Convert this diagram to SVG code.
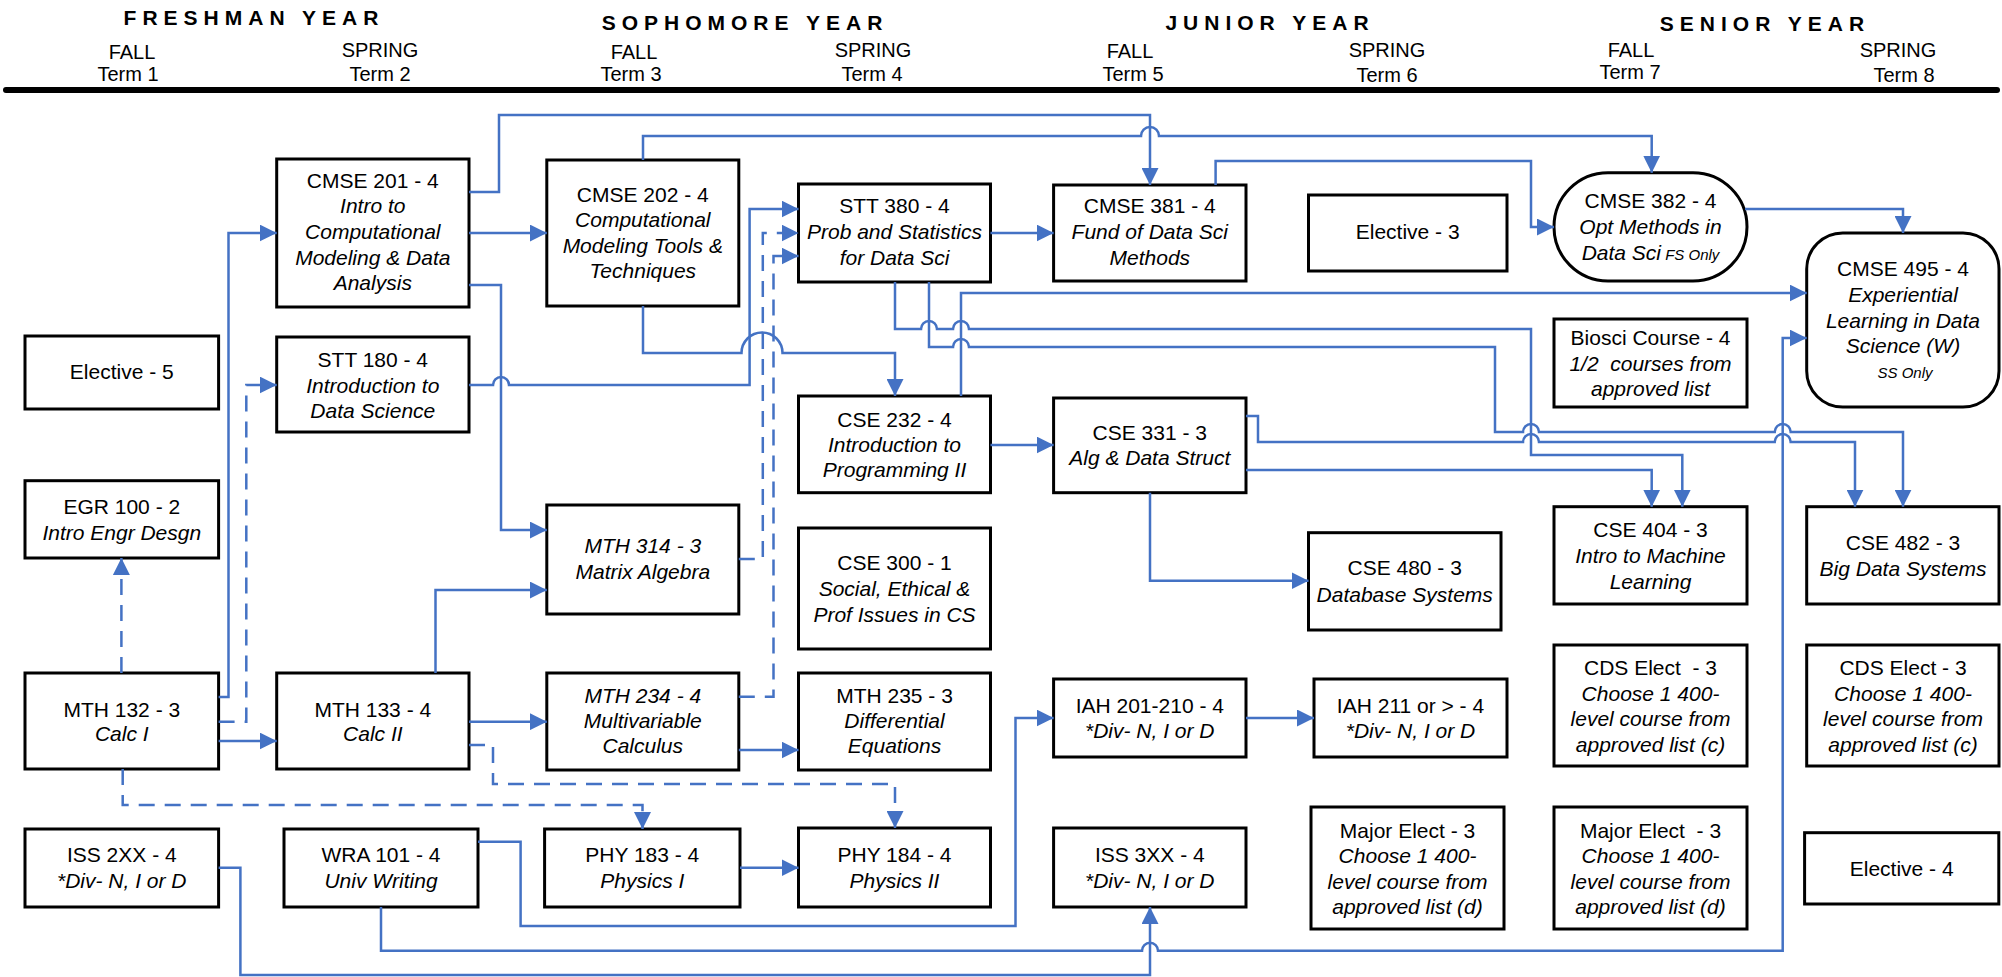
<svg xmlns="http://www.w3.org/2000/svg" width="2002" height="977" viewBox="0 0 2002 977">
<style>
.box{fill:#fff;stroke:#000;stroke-width:3}
.t{font-family:"Liberation Sans",Arial,sans-serif;font-size:21px;text-anchor:middle;fill:#000}
.i{font-style:italic}
.s{font-size:15px}
.yr{font-family:"Liberation Sans",Arial,sans-serif;font-size:21px;font-weight:bold;letter-spacing:6px;text-anchor:middle;fill:#000}
.tm{font-family:"Liberation Sans",Arial,sans-serif;font-size:20px;text-anchor:middle;fill:#000}
.c{fill:none;stroke:#4472C4;stroke-width:2.5;marker-end:url(#a)}
.d{stroke-dasharray:16 10}
</style>
<defs>
<marker id="a" viewBox="0 0 17 17" refX="17" refY="8.5" markerWidth="17" markerHeight="17" orient="auto" markerUnits="userSpaceOnUse"><path d="M0,0 L17,8.5 L0,17 Z" fill="#4472C4"/></marker>
</defs>
<rect width="2002" height="977" fill="#fff"/>

<g id="header">
<text class="yr" x="254" y="25">FRESHMAN  YEAR</text>
<text class="yr" x="745" y="30">SOPHOMORE  YEAR</text>
<text class="yr" x="1270" y="30">JUNIOR  YEAR</text>
<text class="yr" x="1765" y="31">SENIOR  YEAR</text>
<text class="tm" x="132" y="59">FALL</text><text class="tm" x="128" y="81">Term 1</text>
<text class="tm" x="380" y="57">SPRING</text><text class="tm" x="380" y="81">Term 2</text>
<text class="tm" x="634" y="59">FALL</text><text class="tm" x="631" y="81">Term 3</text>
<text class="tm" x="873" y="57">SPRING</text><text class="tm" x="872" y="81">Term 4</text>
<text class="tm" x="1130" y="58">FALL</text><text class="tm" x="1133" y="81">Term 5</text>
<text class="tm" x="1387" y="57">SPRING</text><text class="tm" x="1387" y="82">Term 6</text>
<text class="tm" x="1631" y="57">FALL</text><text class="tm" x="1630" y="79">Term 7</text>
<text class="tm" x="1898" y="57">SPRING</text><text class="tm" x="1904" y="82">Term 8</text>
<line x1="6" y1="90" x2="1997" y2="90" stroke="#000" stroke-width="6" stroke-linecap="round"/>
</g>

<g id="elective5"><rect class="box" x="25" y="336" width="193.6" height="73"/><text class="t" x="121.8" y="379">Elective - 5</text></g>
<g id="egr100"><rect class="box" x="25" y="480.7" width="193.6" height="77.3"/><text class="t"><tspan x="121.8" y="514">EGR 100 - 2</tspan><tspan class="i" x="121.8" y="540">Intro Engr Desgn</tspan></text></g>
<g id="mth132"><rect class="box" x="25" y="673" width="193.6" height="96"/><text class="t"><tspan x="121.8" y="716.7">MTH 132 - 3</tspan><tspan class="i" x="121.8" y="741">Calc I</tspan></text></g>
<g id="iss2xx"><rect class="box" x="25" y="829" width="193.6" height="78"/><text class="t"><tspan x="121.8" y="861.7">ISS 2XX - 4</tspan><tspan class="i" x="121.8" y="888">*Div- N, I or D</tspan></text></g>

<g id="cmse201"><rect class="box" x="276.7" y="159" width="192.3" height="148"/><text class="t"><tspan x="372.8" y="188">CMSE 201 - 4</tspan><tspan class="i" x="372.8" y="213">Intro to</tspan><tspan class="i" x="372.8" y="239">Computational</tspan><tspan class="i" x="372.8" y="265">Modeling &amp; Data</tspan><tspan class="i" x="372.8" y="290">Analysis</tspan></text></g>
<g id="stt180"><rect class="box" x="276.7" y="337" width="192.3" height="95"/><text class="t"><tspan x="372.8" y="367">STT 180 - 4</tspan><tspan class="i" x="372.8" y="393">Introduction to</tspan><tspan class="i" x="372.8" y="418">Data Science</tspan></text></g>
<g id="mth133"><rect class="box" x="276.7" y="673" width="192.3" height="96"/><text class="t"><tspan x="372.8" y="716.7">MTH 133 - 4</tspan><tspan class="i" x="372.8" y="741">Calc II</tspan></text></g>
<g id="wra101"><rect class="box" x="284" y="829" width="194" height="78"/><text class="t"><tspan x="381" y="861.7">WRA 101 - 4</tspan><tspan class="i" x="381" y="888">Univ Writing</tspan></text></g>

<g id="cmse202"><rect class="box" x="546.8" y="160" width="192" height="146"/><text class="t"><tspan x="642.8" y="202">CMSE 202 - 4</tspan><tspan class="i" x="642.8" y="227">Computational</tspan><tspan class="i" x="642.8" y="253">Modeling Tools &amp;</tspan><tspan class="i" x="642.8" y="278">Techniques</tspan></text></g>
<g id="mth314"><rect class="box" x="546.8" y="505" width="192" height="109"/><text class="t i"><tspan x="642.8" y="553">MTH 314 - 3</tspan><tspan x="642.8" y="579">Matrix Algebra</tspan></text></g>
<g id="mth234"><rect class="box" x="546.8" y="673" width="192" height="97"/><text class="t i"><tspan x="642.8" y="703">MTH 234 - 4</tspan><tspan x="642.8" y="728">Multivariable</tspan><tspan x="642.8" y="753">Calculus</tspan></text></g>
<g id="phy183"><rect class="box" x="544.6" y="829" width="195.4" height="78"/><text class="t"><tspan x="642.3" y="861.7">PHY 183 - 4</tspan><tspan class="i" x="642.3" y="888">Physics I</tspan></text></g>

<g id="stt380"><rect class="box" x="798.5" y="184" width="192" height="98"/><text class="t"><tspan x="894.5" y="213">STT 380 - 4</tspan><tspan class="i" x="894.5" y="239">Prob and Statistics</tspan><tspan class="i" x="894.5" y="265">for Data Sci</tspan></text></g>
<g id="cse232"><rect class="box" x="798.5" y="396" width="192" height="96.7"/><text class="t"><tspan x="894.5" y="427">CSE 232 - 4</tspan><tspan class="i" x="894.5" y="452">Introduction to</tspan><tspan class="i" x="894.5" y="477">Programming II</tspan></text></g>
<g id="cse300"><rect class="box" x="798.5" y="528" width="192" height="121"/><text class="t"><tspan x="894.5" y="570">CSE 300 - 1</tspan><tspan class="i" x="894.5" y="596">Social, Ethical &amp;</tspan><tspan class="i" x="894.5" y="621.7">Prof Issues in CS</tspan></text></g>
<g id="mth235"><rect class="box" x="798.5" y="673" width="192" height="97"/><text class="t"><tspan x="894.5" y="703">MTH 235 - 3</tspan><tspan class="i" x="894.5" y="728">Differential</tspan><tspan class="i" x="894.5" y="753">Equations</tspan></text></g>
<g id="phy184"><rect class="box" x="798.5" y="828" width="192" height="79"/><text class="t"><tspan x="894.5" y="861.7">PHY 184 - 4</tspan><tspan class="i" x="894.5" y="888">Physics II</tspan></text></g>

<g id="cmse381"><rect class="box" x="1053.6" y="185" width="192.4" height="96"/><text class="t"><tspan x="1149.8" y="213">CMSE 381 - 4</tspan><tspan class="i" x="1149.8" y="239">Fund of Data Sci</tspan><tspan class="i" x="1149.8" y="265">Methods</tspan></text></g>
<g id="cse331"><rect class="box" x="1053.6" y="398" width="192.4" height="94.7"/><text class="t"><tspan x="1149.8" y="440">CSE 331 - 3</tspan><tspan class="i" x="1149.8" y="465">Alg &amp; Data Struct</tspan></text></g>
<g id="iah201"><rect class="box" x="1053.6" y="679" width="192.4" height="78"/><text class="t"><tspan x="1149.8" y="713">IAH 201-210 - 4</tspan><tspan class="i" x="1149.8" y="738">*Div- N, I or D</tspan></text></g>
<g id="iss3xx"><rect class="box" x="1053.6" y="828" width="192.4" height="79"/><text class="t"><tspan x="1149.8" y="861.7">ISS 3XX - 4</tspan><tspan class="i" x="1149.8" y="888">*Div- N, I or D</tspan></text></g>

<g id="elective3"><rect class="box" x="1308.5" y="195" width="198.5" height="76"/><text class="t" x="1407.7" y="239">Elective - 3</text></g>
<g id="cse480"><rect class="box" x="1308.5" y="532.7" width="192.5" height="97.3"/><text class="t"><tspan x="1404.7" y="575">CSE 480 - 3</tspan><tspan class="i" x="1404.7" y="601.7">Database Systems</tspan></text></g>
<g id="iah211"><rect class="box" x="1314" y="679" width="193" height="78"/><text class="t"><tspan x="1410.5" y="713">IAH 211 or &gt; - 4</tspan><tspan class="i" x="1410.5" y="738">*Div- N, I or D</tspan></text></g>
<g id="majorelect6"><rect class="box" x="1311" y="807" width="193" height="122"/><text class="t"><tspan x="1407.5" y="837.5">Major Elect - 3</tspan><tspan class="i" x="1407.5" y="863">Choose 1 400-</tspan><tspan class="i" x="1407.5" y="888.5">level course from</tspan><tspan class="i" x="1407.5" y="914">approved list (d)</tspan></text></g>

<g id="cmse382"><rect class="box" x="1554" y="172.7" width="193" height="108.3" rx="54" ry="54"/><text class="t"><tspan x="1650.5" y="208">CMSE 382 - 4</tspan><tspan class="i" x="1650.5" y="234">Opt Methods in</tspan><tspan class="i" x="1650.5" y="260">Data Sci<tspan class="s"> FS Only</tspan></tspan></text></g>
<g id="biosci"><rect class="box" x="1554" y="319" width="193" height="88"/><text class="t" xml:space="preserve"><tspan x="1650.5" y="345">Biosci Course - 4</tspan><tspan class="i" x="1650.5" y="371">1/2  courses from</tspan><tspan class="i" x="1650.5" y="396">approved list</tspan></text></g>
<g id="cse404"><rect class="box" x="1554" y="506.7" width="193" height="97.3"/><text class="t"><tspan x="1650.5" y="536.7">CSE 404 - 3</tspan><tspan class="i" x="1650.5" y="563">Intro to Machine</tspan><tspan class="i" x="1650.5" y="589">Learning</tspan></text></g>
<g id="cdselect7"><rect class="box" x="1554" y="645" width="193" height="121"/><text class="t" xml:space="preserve"><tspan x="1650.5" y="675">CDS Elect  - 3</tspan><tspan class="i" x="1650.5" y="700.7">Choose 1 400-</tspan><tspan class="i" x="1650.5" y="726">level course from</tspan><tspan class="i" x="1650.5" y="751.7">approved list (c)</tspan></text></g>
<g id="majorelect7"><rect class="box" x="1554" y="807" width="193" height="122"/><text class="t" xml:space="preserve"><tspan x="1650.5" y="837.5">Major Elect  - 3</tspan><tspan class="i" x="1650.5" y="863">Choose 1 400-</tspan><tspan class="i" x="1650.5" y="888.5">level course from</tspan><tspan class="i" x="1650.5" y="914">approved list (d)</tspan></text></g>

<g id="cmse495"><rect class="box" x="1806.7" y="233" width="192.3" height="174" rx="36" ry="36"/><text class="t"><tspan x="1903" y="276">CMSE 495 - 4</tspan><tspan class="i" x="1903" y="302">Experiential</tspan><tspan class="i" x="1903" y="328">Learning in Data</tspan><tspan class="i" x="1903" y="353">Science (W)</tspan><tspan class="i s" x="1905" y="378">SS Only</tspan></text></g>
<g id="cse482"><rect class="box" x="1806.7" y="506.7" width="192.3" height="97.3"/><text class="t"><tspan x="1903" y="550">CSE 482 - 3</tspan><tspan class="i" x="1903" y="576">Big Data Systems</tspan></text></g>
<g id="cdselect8"><rect class="box" x="1806.7" y="645" width="192.3" height="121"/><text class="t"><tspan x="1903" y="675">CDS Elect - 3</tspan><tspan class="i" x="1903" y="700.7">Choose 1 400-</tspan><tspan class="i" x="1903" y="726">level course from</tspan><tspan class="i" x="1903" y="751.7">approved list (c)</tspan></text></g>
<g id="elective4"><rect class="box" x="1804.6" y="832.7" width="194.2" height="71.3"/><text class="t" x="1901.7" y="876">Elective - 4</text></g>

<g id="connectors">
<path class="c" d="M218.6,697 H228.5 V233 H276.7"/>
<path class="c d" d="M218.6,721.7 H246.3 V385 H276.7"/>
<path class="c" d="M218.6,741 H276.7"/>
<path class="c d" d="M121.4,673 V558"/>
<path class="c d" d="M122.7,769 V805 H642.5 V829"/>
<path class="c" d="M435.5,673 V590 H546.8"/>
<path class="c" d="M469,721.7 H546.8"/>
<path class="c d" d="M469,745 H493 V784 H895 V828"/>
<path class="c" d="M469,233 H546.8"/>
<path class="c" d="M469,285 H501 V530 H546.8"/>
<path class="c" d="M469,192 H499 V115 H1150 V185"/>
<path class="c" d="M469,385 H493 A8,8 0 0 1 509,385 H749.6 V209 H798.5"/>
<path class="c d" d="M738.8,559 H762.8 V233 H798.5"/>
<path class="c d" d="M738.8,696.7 H773.5 V256 H798.5"/>
<path class="c" d="M643,306 V353 H741.5 A20.5,20.5 0 0 1 782.5,353 H895 V396"/>
<path class="c" d="M643,160 V136 H1141 A9,9 0 0 1 1159,136 H1651.7 V172.7"/>
<path class="c" d="M990.5,233 H1053.6"/>
<path class="c" d="M895,282 V329 H921 A8,8 0 0 1 937,329 H953 A8,8 0 0 1 969,329 H1531 V455 H1682.3 V506.7"/>
<path class="c" d="M929,282 V347 H953 A8,8 0 0 1 969,347 H1495 V432 H1523 A8,8 0 0 1 1539,432 H1774.7 A8,8 0 0 1 1790.7,432 H1903 V506.7"/>
<path class="c" d="M961,396 V293 H1806.7"/>
<path class="c" d="M990.5,445 H1053.6"/>
<path class="c" d="M1246,416 H1258 V442 H1523 A8,8 0 0 1 1539,442 H1774.7 A8,8 0 0 1 1790.7,442 H1855 V506.7"/>
<path class="c" d="M1246,470 H1651.7 V506.7"/>
<path class="c" d="M1150,492.7 V580.7 H1308.5"/>
<path class="c" d="M1215.6,185 V161 H1531 V227 H1554"/>
<path class="c" d="M1745,209 H1903 V233"/>
<path class="c" d="M1246,718 H1314"/>
<path class="c" d="M738.8,750 H798.5"/>
<path class="c" d="M740,867.7 H798.5"/>
<path class="c" d="M478,841.7 H520.6 V926 H1015.5 V718 H1053.6"/>
<path class="c" d="M381,907 V950.7 H1142 A8,8 0 0 1 1158,950.7 H1782.7 V338 H1806.7"/>
<path class="c" d="M218.6,867.7 H240.4 V975 H1150 V907"/>
</g>
</svg>
